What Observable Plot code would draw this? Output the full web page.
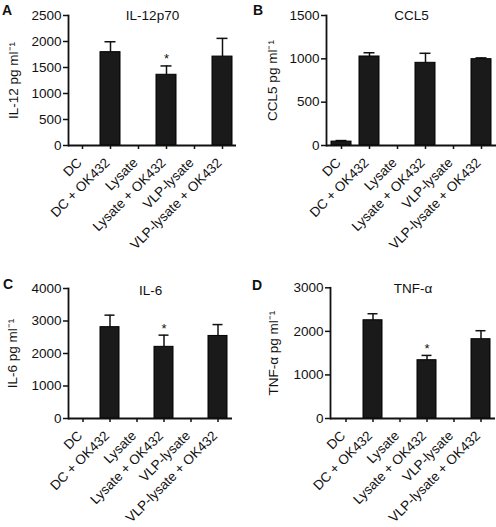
<!DOCTYPE html>
<html><head><meta charset="utf-8">
<script src="https://cdn.jsdelivr.net/npm/d3@7"></script>
<script src="https://cdn.jsdelivr.net/npm/@observablehq/plot@0.6"></script>
<style>
body{margin:0;background:#fff;}
#root{position:relative;width:496px;height:527px;overflow:hidden;font-family:"Liberation Sans",Arial,Helvetica,sans-serif;}
.panel{position:absolute;}
.letter{position:absolute;font-weight:bold;font-size:14px;line-height:14px;color:#111;}
</style></head><body><div id="root"></div>
<script>
const categories = ["DC", "DC + OK432", "Lysate", "Lysate + OK432", "VLP-lysate", "VLP-lysate + OK432"];

const il12Values = [0, 1795, 0, 1360, 0, 1710];
const il12Sem    = [0, 200, 0, 170, 0, 350];
const il12Ticks  = [0, 500, 1000, 1500, 2000, 2500];

const ccl5Values = [45, 1027, 0, 954, 0, 996];
const ccl5Sem    = [12, 43, 0, 110, 0, 15];
const ccl5Ticks  = [0, 500, 1000, 1500];

const il6Values = [0, 2810, 0, 2205, 0, 2540];
const il6Sem    = [0, 370, 0, 360, 0, 350];
const il6Ticks  = [0, 1000, 2000, 3000, 4000];

const tnfValues = [0, 2255, 0, 1338, 0, 1820];
const tnfSem    = [0, 150, 0, 110, 0, 195];
const tnfTicks  = [0, 1000, 2000, 3000];

const starred = ["Lysate + OK432"];

const FONT = '"Liberation Sans", Arial, Helvetica, sans-serif';
const root = document.getElementById("root");

function panel(o) {
  const data = categories.map((c, i) => ({c, v: o.values[i], e: o.values[i] + o.sem[i]}));
  const bars = data.filter(d => d.v > 0);
  const errs = data.filter(d => d.v > 0 && d.e > d.v);
  const stars = o.star ? data.filter(d => starred.includes(d.c)) : [];
  const plot = Plot.plot({
    width: o.width, height: o.height,
    marginTop: o.mt, marginBottom: o.mb, marginLeft: o.ml, marginRight: o.mr,
    style: {fontFamily: FONT, fontSize: "13.5px", color: "#111", background: "transparent", overflow: "visible"},
    x: {domain: categories, paddingInner: 0.3, paddingOuter: 0.15, label: null},
    y: {domain: [0, o.ticks[o.ticks.length - 1]], label: null},
    marks: [
      Plot.ruleX(errs, {x: "c", y1: "v", y2: "e", stroke: "#111", strokeWidth: 1.5}),
      Plot.tickY(errs, {x: "c", y: "e", stroke: "#111", strokeWidth: 1.5, insetLeft: 4.5, insetRight: 4.5}),
      Plot.barY(bars, {x: "c", y: "v", fill: "#1a1a1a", stroke: "#000", strokeWidth: 1}),
      Plot.ruleY([0], {stroke: "#111", strokeWidth: 1.8}),
      Plot.frame({anchor: "left", stroke: "#111", strokeWidth: 1.8}),
      Plot.axisY({ticks: o.ticks, tickFormat: d => String(d), tickSize: 5, tickPadding: 2, label: null, strokeWidth: 1.5}),
      Plot.axisX({tickRotate: -45, tickSize: 4, label: null, strokeWidth: 1.5, text: null}),
      Plot.axisX({tickRotate: -45, tickSize: 0, tickPadding: 15, dx: -3, label: null}),
      Plot.text([o.yLabel], {frameAnchor: "left", textAnchor: "middle", rotate: -90, dx: o.labelDx}),
      Plot.text([o.title], {frameAnchor: "top", dy: o.titleDy}),
      Plot.text(stars, {x: "c", y: "e", text: () => "*", dy: o.starDy, fontSize: 13})
    ]
  });
  plot.classList.add("panel");
  plot.style.left = o.left + "px";
  plot.style.top = o.top + "px";
  root.appendChild(plot);
  const L = document.createElement("div");
  L.className = "letter";
  L.textContent = o.letter;
  L.style.left = o.letterX + "px";
  L.style.top = o.letterY + "px";
  root.appendChild(L);
}

panel({letter: "A", letterX: 2, letterY: 3, values: il12Values, sem: il12Sem, ticks: il12Ticks,
  title: "IL-12p70", yLabel: "IL-12 pg ml\u207B\u00B9", star: true,
  left: 0, top: 0, width: 248, height: 264, mt: 15, mb: 119, ml: 68, mr: 12,
  labelDx: -55, titleDy: -5, starDy: -7});

panel({letter: "B", letterX: 253, letterY: 3, values: ccl5Values, sem: ccl5Sem, ticks: ccl5Ticks,
  title: "CCL5", yLabel: "CCL5 pg ml\u207B\u00B9", star: false,
  left: 248, top: 0, width: 248, height: 264, mt: 15, mb: 119, ml: 78, mr: 0,
  labelDx: -54, titleDy: -5.5, starDy: -7});

panel({letter: "C", letterX: 3, letterY: 277, values: il6Values, sem: il6Sem, ticks: il6Ticks,
  title: "IL-6", yLabel: "IL-6 pg ml\u207B\u00B9", star: true,
  left: 0, top: 264, width: 248, height: 263, mt: 24, mb: 109, ml: 68, mr: 16,
  labelDx: -55.5, titleDy: -3, starDy: -6.5});

panel({letter: "D", letterX: 252, letterY: 278, values: tnfValues, sem: tnfSem, ticks: tnfTicks,
  title: "TNF-\u03B1", yLabel: "TNF-\u03B1 pg ml\u207B\u00B9", star: true,
  left: 248, top: 264, width: 248, height: 263, mt: 23.3, mb: 109, ml: 82, mr: 1,
  labelDx: -56.5, titleDy: -4, starDy: -6.5});
</script>
</body></html>
